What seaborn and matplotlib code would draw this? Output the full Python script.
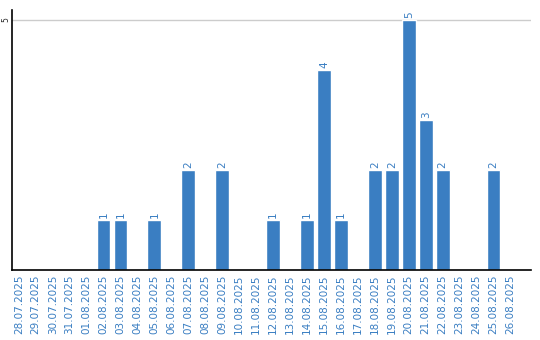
import matplotlib
matplotlib.use("Agg")
import matplotlib.pyplot as plt
import seaborn as sns
import pandas as pd

dates = ["28.07.2025", "29.07.2025", "30.07.2025", "31.07.2025", "01.08.2025",
         "02.08.2025", "03.08.2025", "04.08.2025", "05.08.2025", "06.08.2025",
         "07.08.2025", "08.08.2025", "09.08.2025", "10.08.2025", "11.08.2025",
         "12.08.2025", "13.08.2025", "14.08.2025", "15.08.2025", "16.08.2025",
         "17.08.2025", "18.08.2025", "19.08.2025", "20.08.2025", "21.08.2025",
         "22.08.2025", "23.08.2025", "24.08.2025", "25.08.2025", "26.08.2025"]
counts = [0, 0, 0, 0, 0,
          1, 1, 0, 1, 0,
          2, 0, 2, 0, 0,
          1, 0, 1, 4, 1,
          0, 2, 2, 5, 3,
          2, 0, 0, 2, 0]

BLUE = "#3a7ec2"
df = pd.DataFrame({"date": dates, "count": counts})

sns.set_style("white")
fig = plt.figure(figsize=(5.4, 3.4), dpi=100)
ax = fig.add_axes([0.0222, 0.206, 0.9608, 0.765])
sns.barplot(data=df, x="date", y="count", color=BLUE, width=0.82,
            saturation=1, ax=ax)

for i, v in enumerate(counts):
    if v > 0:
        ax.text(i, v + 0.04, str(v), rotation=90, ha="center", va="bottom",
                color=BLUE, fontsize=7.5)

ax.set_ylim(0, 5.2)
ax.set_xlim(-0.4, 30.2)
ax.set_yticks([5])
ax.set_yticklabels(["5"], rotation=90, va="center", fontsize=5.5)
ax.axhline(5, color="#cccccc", lw=1, zorder=0)
ax.tick_params(axis="y", length=0, pad=1)
ax.tick_params(axis="x", length=0, pad=3)
ax.set_xticks(range(len(dates)))
ax.set_xticklabels(dates, rotation=90, color=BLUE, fontsize=7.5)
ax.set_xlabel("")
ax.set_ylabel("")
for s in ["top", "right"]:
    ax.spines[s].set_visible(False)
ax.spines["left"].set_color("black")
ax.spines["bottom"].set_color("black")
ax.spines["left"].set_linewidth(1.2)
ax.spines["bottom"].set_linewidth(1.2)

fig.savefig("out.png", dpi=100)
